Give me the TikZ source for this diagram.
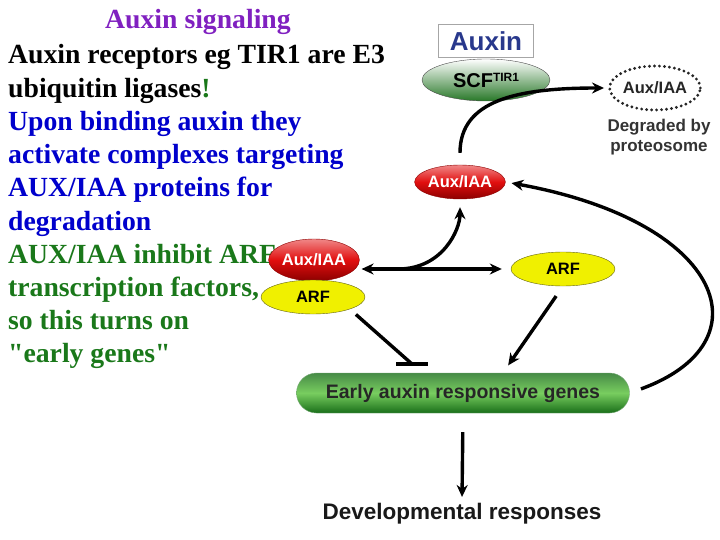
\documentclass[tikz,border=0pt]{standalone}
\usepackage{fontspec}
\setmainfont{Liberation Serif}
\setsansfont{Liberation Sans}
\newfontfamily\leftfont{Liberation Serif}
\usetikzlibrary{shapes.geometric,arrows.meta}

\definecolor{titlepurple}{RGB}{128,32,192}
\definecolor{textblue}{RGB}{0,0,204}
\definecolor{textgreen}{RGB}{26,120,26}
\definecolor{auxinblue}{RGB}{40,56,140}
\definecolor{iaared}{RGB}{225,15,15}
\definecolor{iaadark}{RGB}{140,0,0}
\definecolor{arfyellow}{RGB}{240,240,0}
\definecolor{arfedge}{RGB}{100,100,20}
\definecolor{scfgreen}{RGB}{40,120,40}
\definecolor{genelight}{RGB}{120,205,95}
\definecolor{genedark}{RGB}{25,110,25}

\begin{document}
\begin{tikzpicture}[x=1pt,y=-1pt,
    lefttxt/.style={anchor=base west, inner sep=0pt, font=\leftfont\fontsize{27.7}{33}\selectfont\bfseries},
    sanstxt/.style={font=\sffamily\bfseries\fontsize{#1}{#1}\selectfont},
    iaa/.style={ellipse, draw=iaadark, top color=iaared!50!white, bottom color=iaadark, middle color=iaared,
        text=white, inner sep=0pt, sanstxt=16.5},
    arfnode/.style={ellipse, draw=arfedge, fill=arfyellow, inner sep=0pt, minimum width=104pt, minimum height=34pt, sanstxt=16.5},
    arr/.style={-{Stealth[length=12pt,width=11pt]}, line width=3.4pt},
    darr/.style={{Stealth[length=12pt,width=11pt]}-{Stealth[length=12pt,width=11pt]}, line width=3.4pt}]
    \useasboundingbox (0,0) rectangle (720,540);
    % text on the left
    \node[lefttxt, anchor=base, text=titlepurple] (title) at (198,29) {Auxin signaling};
    \node[lefttxt] (l1) at (8,64) {Auxin receptors eg TIR1 are E3};
    \node[lefttxt] (l2) at (8,97.2) {ubiquitin ligases\textcolor{textgreen}{!}};
    \node[lefttxt, text=textblue] (l3) at (8,130.4) {Upon binding auxin they};
    \node[lefttxt, text=textblue] (l4) at (8,163.6) {activate complexes targeting};
    \node[lefttxt, text=textblue] (l5) at (8,196.8) {AUX/IAA proteins for};
    \node[lefttxt, text=textblue] (l6) at (8,230) {degradation};
    \node[lefttxt, text=textgreen] (l7) at (8,263.2) {AUX/IAA inhibit ARF};
    \node[lefttxt, text=textgreen] (l8) at (8,296.4) {transcription factors,};
    \node[lefttxt, text=textgreen] (l9) at (8,329.6) {so this turns on};
    \node[lefttxt, text=textgreen] (l10) at (8,362.8) {"early genes"};
    % the pathway
    \node[draw=gray!70, line width=1.2pt, minimum width=95pt, minimum height=33pt, inner sep=0pt,
        text=auxinblue, sanstxt=26] (auxin) at (486,41) {Auxin};
    \node[ellipse, draw=black!70, top color=white, bottom color=scfgreen, minimum width=128pt, minimum height=42pt,
        inner sep=0pt, sanstxt=20] (scf) at (486,80) {SCF\raisebox{6pt}{\fontsize{12}{12}\selectfont TIR1}};
    \node[ellipse, draw=black!85, line width=3.2pt, dash pattern=on 0pt off 5pt, line cap=round,
        minimum width=88pt, minimum height=44pt, inner sep=0pt, text=black!85, sanstxt=16.5] (gone) at (655,88) {Aux/IAA};
    \node[sanstxt=17, text=black!80, align=center] (deg) at (659,137) {Degraded by\\[3pt]proteosome};
    \node[iaa, minimum width=86pt, minimum height=34pt] (aux1) at (460,182) {Aux/IAA};
    \node[iaa, minimum width=82pt, minimum height=42pt] (auxc) at (314,260) {Aux/IAA};
    \node[arfnode] (arfc) at (313,297) {ARF};
    \node[arfnode] (arf) at (563,269) {ARF};
    \node[rounded corners=20pt, draw=genedark!60, top color=genedark!80!white, bottom color=genedark, middle color=genelight,
        minimum width=333pt, minimum height=40pt, inner sep=0pt, text=black!85, sanstxt=19.5] (genes) at (463,393) {Early auxin responsive genes};
    \node[sanstxt=22.5, text=black!90] (dev) at (462,514) {Developmental responses};
    % connectors
    \draw[arr, shorten <=12pt, shorten >=4pt] (aux1.north) .. controls +(0,-65) and +(-90,0) .. (gone.west);
    \draw[darr, shorten <=2pt, shorten >=9pt] (auxc.east |- arf.west) -- (arf.west);
    \coordinate (fork) at (398,269);
    \draw[arr, shorten >=8pt] (fork) .. controls +(45,0) and +(0,30) .. (aux1.south);
    \draw[arr, shorten <=12pt, shorten >=6pt] (genes.east) .. controls +(138,-50) and +(220,40) .. (aux1.east);
    \coordinate (inh) at (412,364);
    \draw[line width=3.4pt, shorten <=8pt] (arfc.south east) -- (inh);
    \draw[line width=3.4pt] ([xshift=-16pt]inh) -- ([xshift=16pt]inh);
    \draw[arr, shorten <=12pt, shorten >=9pt] (arf.south) -- ([xshift=40pt]genes.north);
    \draw[arr, shorten <=19pt, shorten >=3pt] (genes.south) -- (dev.north);
\end{tikzpicture}
\end{document}
